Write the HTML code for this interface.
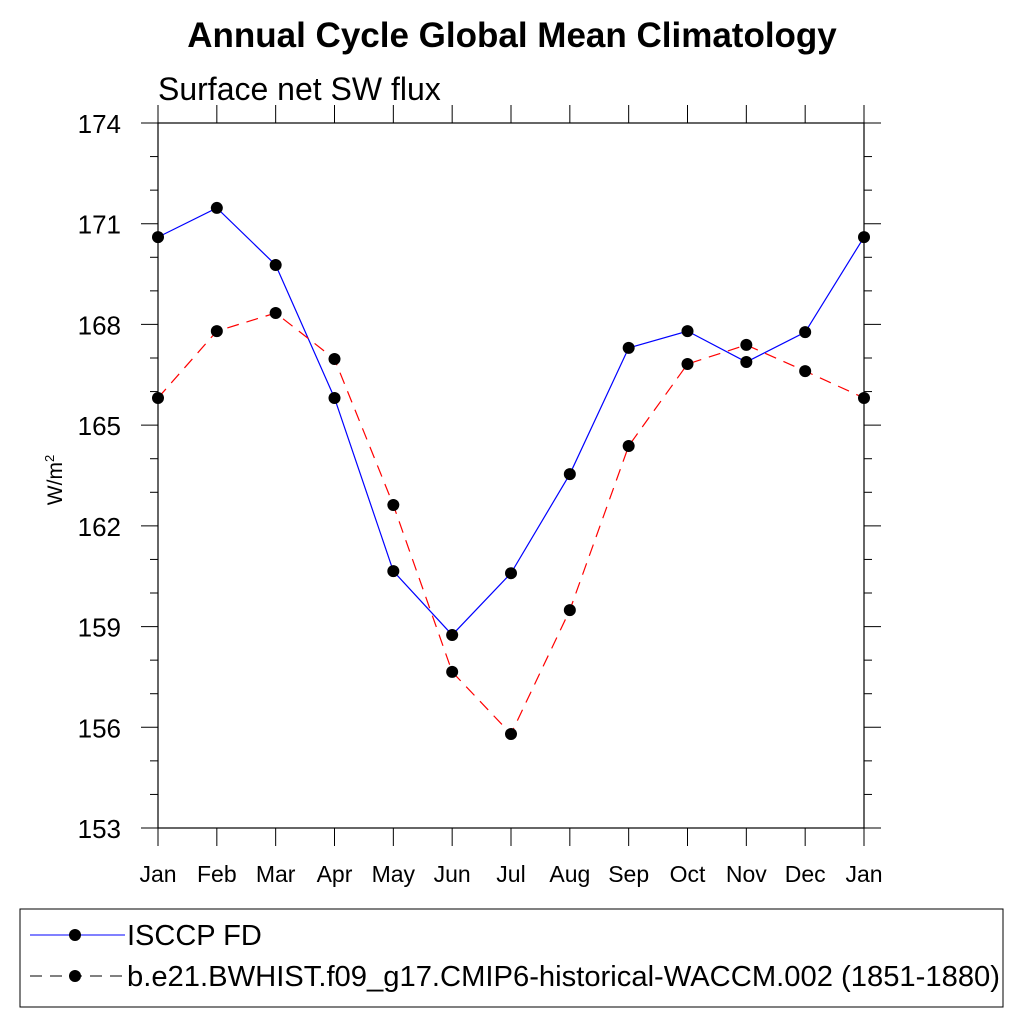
<!DOCTYPE html>
<html><head><meta charset="utf-8"><style>
body{margin:0;background:#fff;}
svg text{font-family:"Liberation Sans",sans-serif;}
</style></head><body>
<svg id="chart" width="1024" height="1024" xmlns="http://www.w3.org/2000/svg">
<text x="512" y="47" text-anchor="middle" font-size="35" font-weight="bold">Annual Cycle Global Mean Climatology</text>
<text x="158" y="100" font-size="32">Surface net SW flux</text>
<text transform="translate(62,480) rotate(-90)" text-anchor="middle" font-size="21">W/m<tspan dy="-8" font-size="13">2</tspan></text>
<g id="axes"></g>
<g id="series"></g>
<g>
<rect x="20" y="909" width="983" height="98" fill="none" stroke="#000" stroke-width="1"/>
<g>
<line x1="30" y1="935" x2="125" y2="935" stroke="#00f" stroke-width="1"/>
<circle cx="75" cy="935" r="6" fill="#000"/>
<text x="127" y="945" font-size="29">ISCCP FD</text></g>
<g>
<line x1="30" y1="976" x2="125" y2="976" stroke="#000" stroke-width="1" stroke-dasharray="12,8"/>
<circle cx="75" cy="976" r="6" fill="#000"/>
<text x="127" y="986" font-size="29" textLength="873" lengthAdjust="spacingAndGlyphs">b.e21.BWHIST.f09_g17.CMIP6-historical-WACCM.002 (1851-1880)</text></g>
</g>
</svg>
<script>
const months=["Jan","Feb","Mar","Apr","May","Jun","Jul","Aug","Sep","Oct","Nov","Dec","Jan"];
const isccp=[170.60,171.47,169.77,165.81,160.65,158.75,160.59,163.54,167.30,167.80,166.88,167.77,170.60];
const model=[165.81,167.80,168.34,166.97,162.62,157.65,155.80,159.49,164.38,166.82,167.39,166.61,165.81];
const yTicks=[153,156,159,162,165,168,171,174];
const X0=158,X1=864,Y0=123,Y1=828,ymin=153,ymax=174;
const xs=i=>X0+(X1-X0)*i/(months.length-1);
const ys=v=>Y1-(v-ymin)/(ymax-ymin)*(Y1-Y0);
const NS="http://www.w3.org/2000/svg";
function mk(t,a,p){const e=document.createElementNS(NS,t);for(const k in a)e.setAttribute(k,a[k]);p.appendChild(e);return e;}
const ax=document.getElementById('axes');
const frame=mk('rect',{x:X0,y:Y0,width:X1-X0,height:Y1-Y0,fill:'none',stroke:'#000','stroke-width':1.2},ax);


for(let v=ymin;v<=ymax;v++){
  const major=yTicks.includes(v);const L=major?17:8;const y=ys(v);
  mk('line',{x1:X0-L,y1:y,x2:X0,y2:y,stroke:'#000'},ax);
  mk('line',{x1:X1,y1:y,x2:X1+L,y2:y,stroke:'#000'},ax);
  if(major){const t=mk('text',{x:121,y:y+10,'text-anchor':'end','font-size':26},ax);t.textContent=v;
  
  }
}
months.forEach((m,i)=>{const x=xs(i);
  mk('line',{x1:x,y1:Y1,x2:x,y2:Y1+18,stroke:'#000'},ax);
  mk('line',{x1:x,y1:Y0-18,x2:x,y2:Y0,stroke:'#000'},ax);
  const t=mk('text',{x:x,y:882,'text-anchor':'middle','font-size':23},ax);t.textContent=m;
  
  
});
const sg=document.getElementById('series');
function series(data,color,dash,name){
  const g=mk('g',{},sg);
  
  
  const a={points:data.map((v,i)=>xs(i)+','+ys(v)).join(' '),fill:'none',stroke:color,'stroke-width':1.2};
  if(dash)a['stroke-dasharray']=dash;
  mk('polyline',a,g);
  data.forEach((v,i)=>{const c=mk('circle',{cx:xs(i),cy:ys(v),r:6,fill:'#000'},g);
    
    });
}
series(isccp,'#00f',null,'series-isccp');
series(model,'#f00','12,8','series-model');
</script>
</body></html>
